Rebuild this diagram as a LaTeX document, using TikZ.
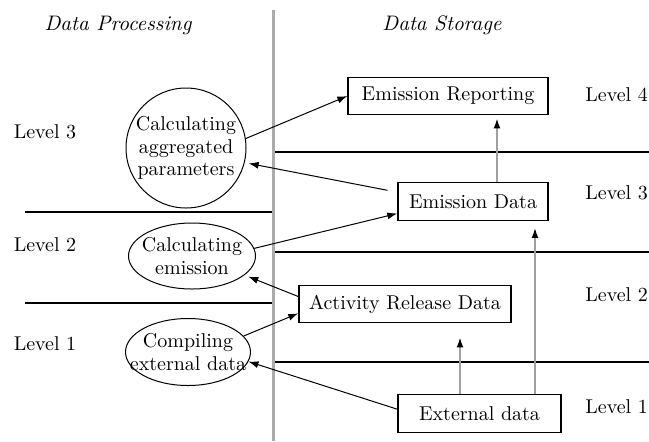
\documentclass[tikz,border=0pt]{standalone}
\usetikzlibrary{arrows.meta,positioning,shapes.geometric}
\definecolor{divgray}{HTML}{ABABAB}
\definecolor{upgray}{HTML}{A0A0A0}

\begin{document}
\begin{tikzpicture}[
    x=0.5pt,y=-0.5pt,
    font=\fontsize{10}{11.3}\selectfont,
    proc/.style={draw,line width=0.5pt,align=center},
    store/.style={draw,line width=0.7pt,minimum height=18.75pt,inner sep=0pt},
    lvl/.style={inner sep=0pt},
    head/.style={font=\fontsize{10.5}{12}\selectfont\itshape},
    arr/.style={-{Latex[length=5pt,width=3.5pt]},line width=0.5pt},
    uparr/.style={-{Latex[length=5pt,width=3.5pt,black]},line width=0.8pt,upgray},
    sep/.style={line width=0.8pt},
    divider/.style={line width=1.5pt,divgray}
]
\useasboundingbox (0,0) rectangle (649,441);

% headings
\node[head] (dp) at (118,25) {Data Processing};
\node[head] (ds) at (442,25) {Data Storage};

% level separators
\draw[sep] (25,212) -- (273,212);
\draw[sep] (25,303) -- (273,303);
\draw[sep] (273,152) -- (649,152);
\draw[sep] (273,252) -- (649,252);
\draw[sep] (273,362) -- (649,362);
\draw[divider] (273,10) -- (273,441);

% processing side
\node[proc,circle,minimum size=60pt,inner sep=0pt] (agg) at (186,148) {Calculating\\aggregated\\parameters};
\node[proc,ellipse,inner xsep=-8pt,inner ysep=0pt,minimum width=63.5pt,minimum height=33pt] (emis) at (192,256) {Calculating\\emission};
\node[proc,ellipse,inner xsep=-8pt,inner ysep=0pt,minimum width=62.5pt,minimum height=33.5pt] (comp) at (188,352) {Compiling\\external data};

% storage side
\node[store,minimum width=100pt] (rep) at (448,96) {Emission Reporting};
\node[store,minimum width=75pt] (edata) at (473,201.5) {Emission Data};
\node[store,minimum width=106pt] (act) at (405,304) {Activity Release Data};
\node[store,minimum width=81.5pt] (ext) at (479.5,413.5) {External data};

% levels
\node[lvl] (l3) at (45,132) {Level 3};
\node[lvl] (l2) at (45,245) {Level 2};
\node[lvl] (l1) at (45,344) {Level 1};
\node[lvl,anchor=west] (r4) at (585,95) {Level 4};
\node[lvl,anchor=west] (r3) at (585,193) {Level 3};
\node[lvl,anchor=west] (r2) at (585,295) {Level 2};
\node[lvl,anchor=west] (r1) at (585,407) {Level 1};

% flows
\draw[arr] (agg.9) -- (rep.west);
\draw[arr,shorten <=5pt,shorten >=2pt] (edata.173) -- (agg.-14);
\draw[arr] (emis.7) -- (edata.189);
\draw[arr,shorten >=2pt] (act.176) -- (emis.-20);
\draw[arr] (comp.16) -- (act.185);
\draw[arr] (ext.177) -- (comp.-9);

\draw[uparr,shorten >=7pt] ([xshift=-9.75pt]ext.north) -- ([xshift=-9.75pt]ext.north |- act.south);
\draw[uparr,shorten >=3.5pt] ([xshift=27.75pt]ext.north) -- ([xshift=27.75pt]ext.north |- edata.south);
\draw[uparr,shorten >=1.5pt] ([xshift=12pt]edata.north) -- ([xshift=12pt]edata.north |- rep.south);
\end{tikzpicture}
\end{document}
